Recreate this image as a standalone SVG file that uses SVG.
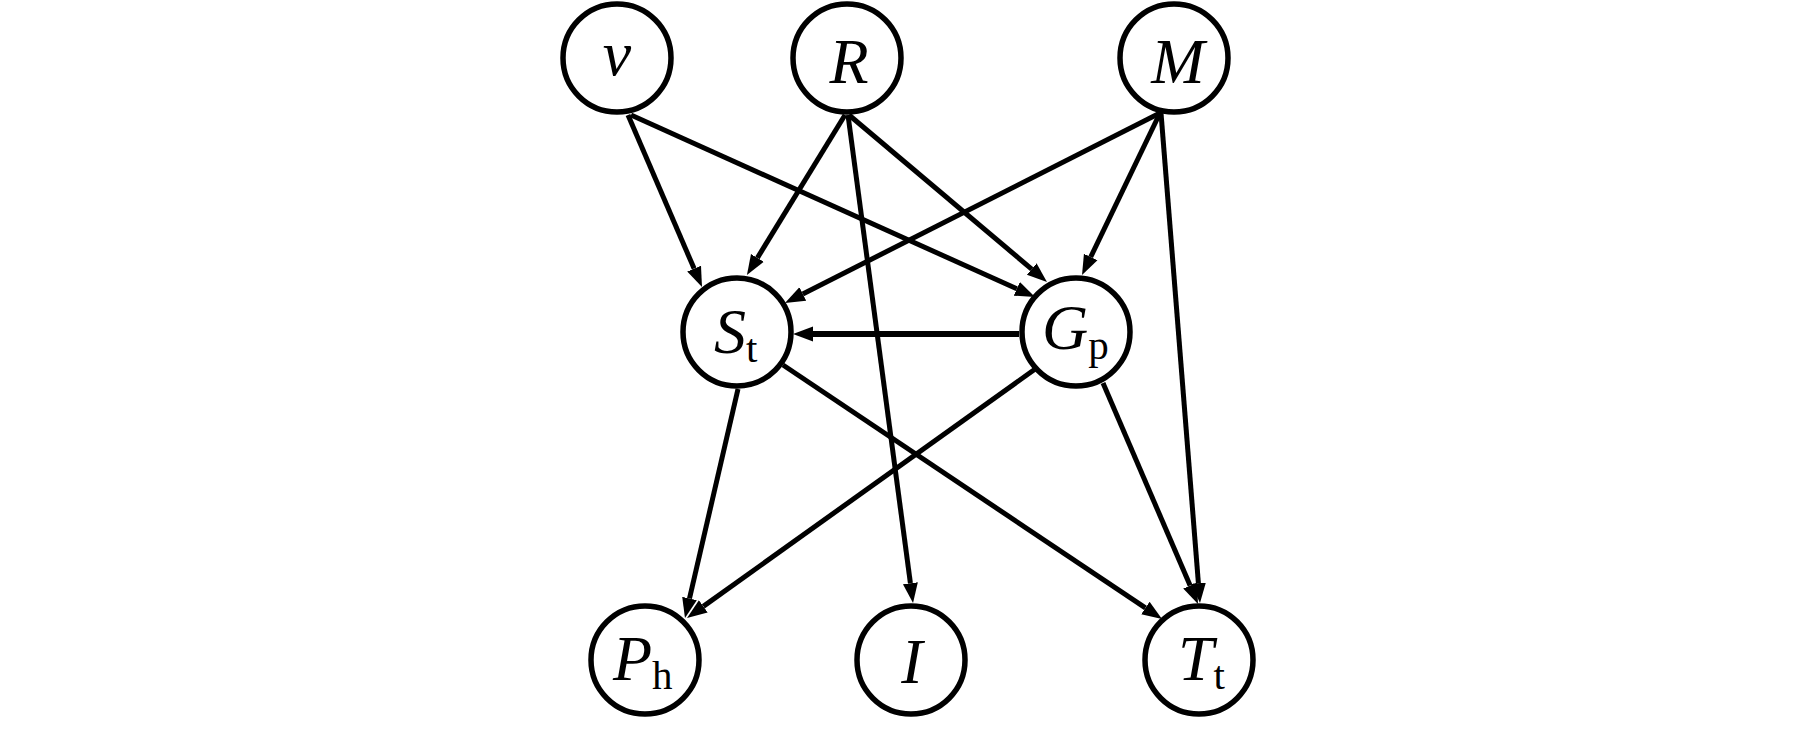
<svg xmlns="http://www.w3.org/2000/svg" width="1819" height="731" viewBox="0 0 1819 731">
<style>
.node circle{fill:#fff;stroke:#000;stroke-width:5.5}
.lbl{font-family:"Liberation Serif","Times New Roman",serif;font-style:italic;font-size:64px;fill:#000}
.sub{font-family:"Liberation Serif","Times New Roman",serif;font-style:normal;font-size:41px;fill:#000}
.edges line{stroke:#000;stroke-width:5;fill:none;marker-end:url(#arr)}
</style>
<defs>
<marker id="arr" markerUnits="userSpaceOnUse" markerWidth="22" markerHeight="18" refX="0" refY="0" viewBox="0 -9 22 18" orient="auto">
<path d="M0,-7.5 L20,0 L0,7.5 z" fill="#000"/>
</marker>
</defs>
<rect width="1819" height="731" fill="#fff"/>
<g id="connectors" class="edges">
<line x1="628" y1="115" x2="694.1" y2="268.6"/>
<line x1="631" y1="115" x2="1016.8" y2="288.8"/>
<line x1="845" y1="115" x2="757.4" y2="257.9"/>
<line x1="849" y1="115" x2="1031.7" y2="269.1"/>
<line x1="848" y1="115" x2="910.4" y2="583.2"/>
<line x1="1160" y1="113" x2="802.8" y2="294"/>
<line x1="1160" y1="113" x2="1090.7" y2="257"/>
<line x1="1161" y1="113" x2="1198.4" y2="583.1"/>
<line x1="1019" y1="334" x2="813" y2="334" style="stroke-width:6"/>
<line x1="738" y1="389" x2="689.5" y2="598.5"/>
<line x1="783" y1="365" x2="1145.4" y2="607.9"/>
<line x1="1038" y1="367" x2="703.3" y2="606.4"/>
<line x1="1103" y1="383" x2="1190.1" y2="585.6"/>
<circle cx="1038" cy="367" r="3.4" fill="#000"/>
</g>
<g id="node-v" class="node"><circle cx="617" cy="58" r="54"/><text class="lbl" x="617" y="75" text-anchor="middle">v</text></g>
<g id="node-R" class="node"><circle cx="847" cy="58" r="54"/><text class="lbl" x="849" y="83" text-anchor="middle">R</text></g>
<g id="node-M" class="node"><circle cx="1174" cy="58" r="54"/><text class="lbl" x="1178" y="83" text-anchor="middle">M</text></g>
<g id="node-St" class="node"><circle cx="737" cy="332" r="54"/><text x="714" y="353"><tspan class="lbl">S</tspan><tspan class="sub" dy="9">t</tspan></text></g>
<g id="node-Gp" class="node"><circle cx="1076" cy="332" r="54"/><text x="1042" y="349"><tspan class="lbl">G</tspan><tspan class="sub" dy="10">p</tspan></text></g>
<g id="node-Ph" class="node"><circle cx="645" cy="660" r="54"/><text x="613" y="680"><tspan class="lbl">P</tspan><tspan class="sub" dy="9">h</tspan></text></g>
<g id="node-I" class="node"><circle cx="911" cy="660" r="54"/><text class="lbl" x="912" y="683" text-anchor="middle">I</text></g>
<g id="node-Tt" class="node"><circle cx="1199" cy="660" r="54"/><text x="1178" y="680"><tspan class="lbl">T</tspan><tspan class="sub" dy="9">t</tspan></text></g>
</svg>
